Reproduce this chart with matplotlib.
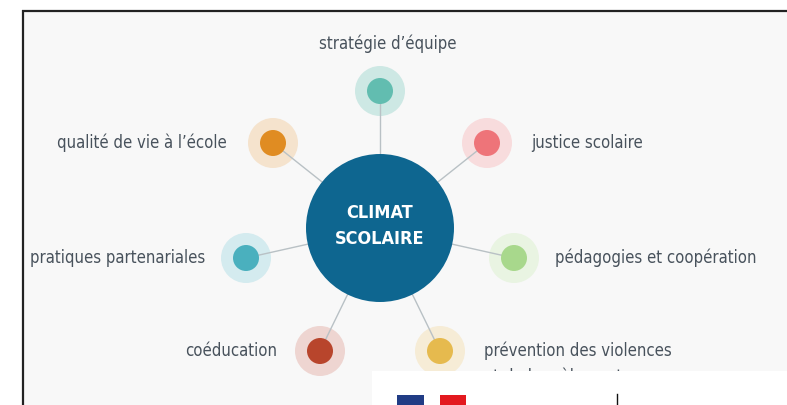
import numpy as np
import matplotlib
matplotlib.use("Agg")
import matplotlib.pyplot as plt
from matplotlib.patches import Circle, Rectangle

# Données du schéma
center_lines = ["CLIMAT", "SCOLAIRE"]
labels = [
    "stratégie d’équipe",
    "justice scolaire",
    "pédagogies et coopération",
    "prévention des violences",
    "coéducation",
    "pratiques partenariales",
    "qualité de vie à l’école",
]
label_second_line = "et du harcèlement"
dot_colors = ["#62BDB0", "#EE7479", "#A8D88C", "#E6BA4E", "#B8452C", "#4AB0BE", "#E08C22"]
halo_colors = ["#CDE8E4", "#F8DCDD", "#E9F4E2", "#F6ECD6", "#EED5D1", "#D4EBEF", "#F5E3CD"]

# Mise en page (pixels, origine en haut à gauche)
W, H = 787, 405
cx, cy, R = 380, 228, 74
node_xy = [(380, 91), (487, 143), (514, 258), (440, 351), (320, 351), (246, 258), (273, 143)]
label_anchor = [
    (388, 44, "center"),
    (531, 143, "left"),
    (555, 258, "left"),
    (484, 351, "left"),
    (277, 351, "right"),
    (205, 258, "right"),
    (227, 143, "right"),
]
r_halo, r_dot = 25, 13

fig = plt.figure(figsize=(W / 100, H / 100), dpi=100)
fig.patch.set_facecolor("white")
ax = fig.add_axes([0, 0, 1, 1])
ax.set_xlim(0, W)
ax.set_ylim(H, 0)
ax.set_aspect("equal")
ax.axis("off")

# fond et cadre de la capture
ax.add_patch(Rectangle((22, 10), W - 22, H - 10, facecolor="#F8F8F8", edgecolor="none", zorder=0))
ax.plot([22, W], [10.5, 10.5], color="#222222", lw=1.6, zorder=10, solid_capstyle="butt")
ax.plot([22.5, 22.5], [10, H], color="#222222", lw=1.6, zorder=10, solid_capstyle="butt")

ax.add_patch(Circle((cx, cy), R, facecolor="#0E6690", edgecolor="none", zorder=3))
for txt, ty in zip(center_lines, [213, 239]):
    ax.text(cx, ty, txt, color="white", fontsize=13, fontweight="bold",
            fontstretch="condensed", ha="center", va="center", zorder=4)

txt_kw = dict(color="#48525C", fontsize=12, fontstretch="condensed", va="center", zorder=4)
for (x, y), lab, dc, hc, (tx, ty, ha) in zip(node_xy, labels, dot_colors, halo_colors, label_anchor):
    d = np.array([cx - x, cy - y], dtype=float)
    u = d / np.hypot(*d)
    ex, ey = cx - u[0] * R, cy - u[1] * R
    ax.add_patch(Circle((x, y), r_halo, facecolor=hc, edgecolor="none", zorder=1))
    ax.plot([x, ex], [y, ey], color="#B9C1C5", lw=1.0, zorder=2)
    ax.add_patch(Circle((x, y), r_dot, facecolor=dc, edgecolor="none", zorder=3))
    ax.text(tx, ty, lab, ha=ha, **txt_kw)
ax.text(484, 377, label_second_line, ha="left", **txt_kw)

# encart blanc superposé (logo)
ax.add_patch(Rectangle((372, 371), W - 372, H - 371, facecolor="white", edgecolor="none", zorder=20))
ax.add_patch(Rectangle((397, 395), 27, 12, facecolor="#213C85", edgecolor="none", zorder=21))
ax.add_patch(Circle((432, 403), 7, facecolor="white", edgecolor="none", zorder=22))
ax.add_patch(Rectangle((440, 395), 26, 12, facecolor="#E3191F", edgecolor="none", zorder=21))
ax.plot([617, 617], [394, H], color="#111111", lw=1.0, zorder=21)

fig.savefig("out.png", dpi=100, facecolor="white")
